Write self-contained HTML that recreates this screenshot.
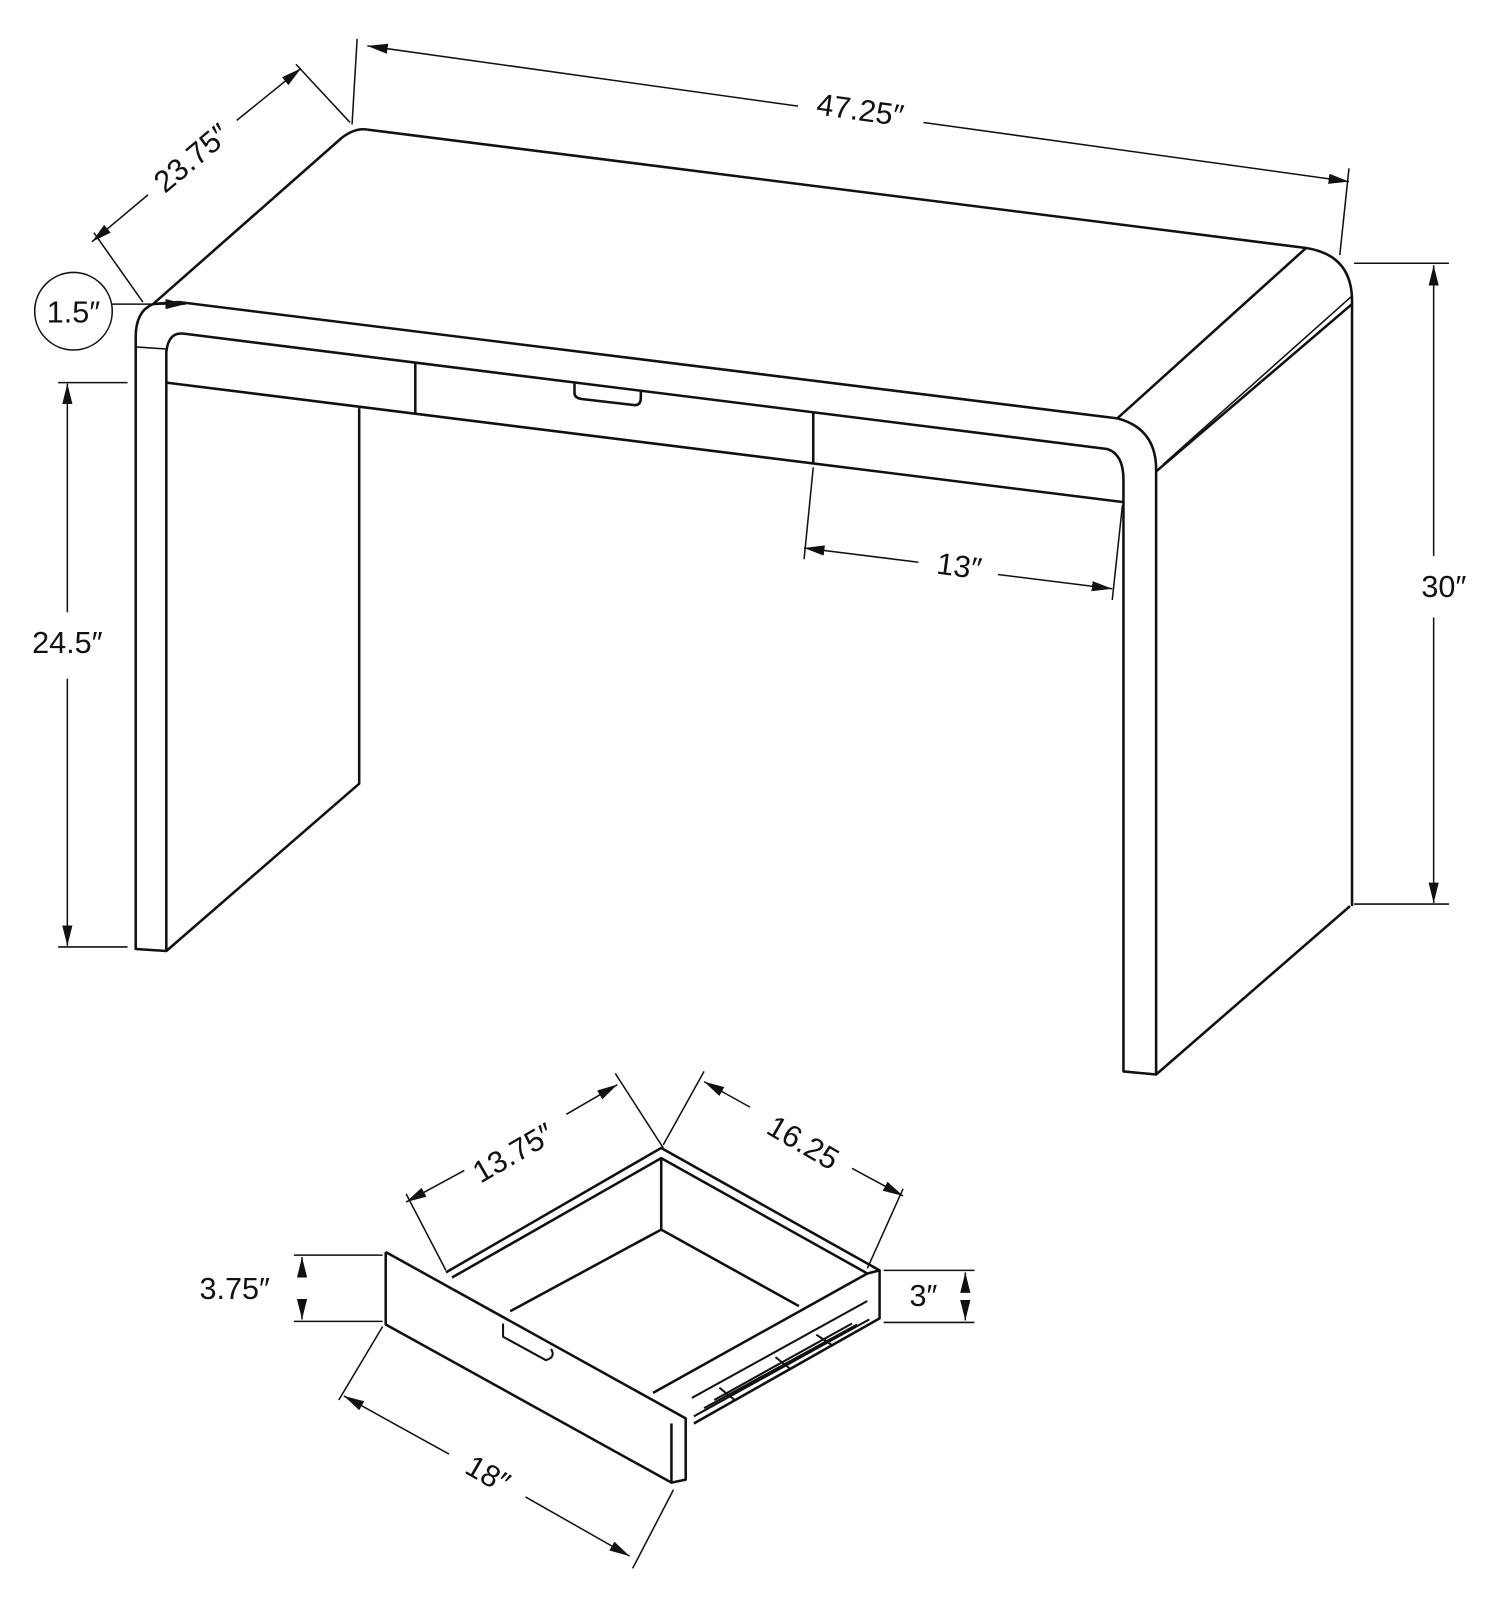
<!DOCTYPE html>
<html><head><meta charset="utf-8"><style>
html,body{margin:0;padding:0;background:#fff;width:1500px;height:1603px;overflow:hidden}
svg{display:block}
text{font-family:"Liberation Sans",sans-serif;font-size:30px;fill:#111}
</style></head><body>
<svg width="1500" height="1603" viewBox="0 0 1500 1603" xmlns="http://www.w3.org/2000/svg">
<defs>
<marker id="a" viewBox="0 0 20 10" refX="20" refY="5" markerWidth="20" markerHeight="10" markerUnits="userSpaceOnUse" orient="auto-start-reverse"><path d="M0,0L20,5L0,10z" fill="#111"/></marker>
</defs>
<g transform="scale(1.0204)">
<g fill="none" stroke="#111" stroke-width="2.5" stroke-linejoin="round">
<path d="M360,127 L1280,243 Q1325,250 1325,295 L1325,888"/>
<path d="M360,127 Q348,125 335,135 L150,298 Q133,305 133,330 L133,930 L163,932 L163,345 Q165,325 180,327 L1085,440 Q1101,445 1101,470 L1101,1050 L1133,1053 L1133,460 Q1133,420 1095,410 L175,296"/>
<path d="M150,298 L175,296"/>
<path d="M1280,243 L1095,410"/>
<path d="M1133,462 L1325,298"/>
<path d="M1140,455 L1325,290" stroke-width="1.5"/>
<path d="M133,340 L163,342" stroke-width="1.5"/>
<path d="M163,375 L1100,492"/>
<path d="M407,355 L407,405 M797,405 L797,455"/>
<path d="M563,376 L563,385 Q563,390 570,391 L622,397 Q628,397 628,390 L628,382"/>
<path d="M163,932 L352,768 L352,400"/>
<path d="M1133,1053 L1323,888"/>
</g>
<g fill="none" stroke="#111" stroke-width="1.5">
<path d="M350,38 L345,122 M1322,165 L1313,250 M290,63 L343,120 M92,228 L140,296"/>
<path d="M782,104 L360,45" marker-end="url(#a)"/>
<path d="M905,120 L1322,178" marker-end="url(#a)"/>
<path d="M145,191 L90,237" marker-end="url(#a)"/>
<path d="M232,118 L295,67" marker-end="url(#a)"/>
<circle cx="72" cy="305" r="38"/>
<path d="M110,298 L182,298" marker-end="url(#a)"/>
<path d="M57,375 L125,375 M57,928 L125,928"/>
<path d="M66,600 L66,376" marker-end="url(#a)"/>
<path d="M66,665 L66,927" marker-end="url(#a)"/>
<path d="M1327,258 L1420,258 M1327,886 L1420,886"/>
<path d="M1405,545 L1405,260" marker-end="url(#a)"/>
<path d="M1405,605 L1405,885" marker-end="url(#a)"/>
<path d="M797,458 L788,548 M1100,495 L1090,588"/>
<path d="M900,551 L788,537" marker-end="url(#a)"/>
<path d="M978,563 L1090,577" marker-end="url(#a)"/>
</g>
<text x="843" y="118" transform="rotate(7.9 843 108)" text-anchor="middle">47.25″</text>
<text x="188" y="165" transform="rotate(-40 188 155)" text-anchor="middle">23.75″</text>
<text x="72" y="316" text-anchor="middle">1.5″</text>
<text x="66" y="640" text-anchor="middle">24.5″</text>
<text x="1415" y="585" text-anchor="middle">30″</text>
<text x="940" y="565" transform="rotate(7.5 940 555)" text-anchor="middle">13″</text>
<g fill="none" stroke="#111" stroke-width="2.5" stroke-linejoin="round">
<path d="M378,1227 L378,1298 L658,1453 L672,1450 L672,1390 L378,1227"/>
<path d="M658,1453 L658,1395"/>
<path d="M437,1247 L648,1125 L862,1245 L862,1292 L680,1395"/>
<path d="M443,1252 L648,1135 L850,1248 L640,1365"/>
<path d="M648,1135 L648,1205 L500,1285 M648,1205 L783,1280"/>
<path d="M862,1245 L850,1248"/>
<path d="M493,1297 L493,1310 L535,1333 Q545,1330 540,1322" stroke-width="2"/>
<path d="M678,1370 L850,1275 M680,1388 L852,1293 M690,1380 L840,1298" stroke-width="2"/>
<path d="M700,1372 L835,1297 M705,1360 L720,1372 M760,1330 L775,1342 M800,1308 L815,1318" stroke-width="2"/>
</g>
<g fill="none" stroke="#111" stroke-width="1.5">
<path d="M603,1052 L650,1125 M690,1050 L650,1122 M398,1170 L437,1245 M885,1165 L850,1243"/>
<path d="M455,1147 L398,1178" marker-end="url(#a)"/>
<path d="M555,1092 L605,1063" marker-end="url(#a)"/>
<path d="M735,1085 L690,1060" marker-end="url(#a)"/>
<path d="M835,1145 L885,1172" marker-end="url(#a)"/>
<path d="M288,1230 L375,1230 M288,1295 L375,1295"/>
<path d="M296,1245 L296,1232" marker-end="url(#a)"/>
<path d="M296,1280 L296,1293" marker-end="url(#a)"/>
<path d="M866,1245 L955,1245 M866,1296 L955,1296"/>
<path d="M946,1262 L946,1247" marker-end="url(#a)"/>
<path d="M946,1278 L946,1294" marker-end="url(#a)"/>
<path d="M375,1300 L332,1372 M660,1460 L620,1537"/>
<path d="M440,1425 L337,1368" marker-end="url(#a)"/>
<path d="M515,1467 L617,1525" marker-end="url(#a)"/>
</g>
<text x="503" y="1140" transform="rotate(-30 503 1130)" text-anchor="middle">13.75″</text>
<text x="787" y="1130" transform="rotate(30 787 1120)" text-anchor="middle">16.25</text>
<text x="230" y="1273" text-anchor="middle">3.75″</text>
<text x="905" y="1280" text-anchor="middle">3″</text>
<text x="478" y="1455" transform="rotate(30 478 1445)" text-anchor="middle">18″</text>
</g>
</svg>
</body></html>
